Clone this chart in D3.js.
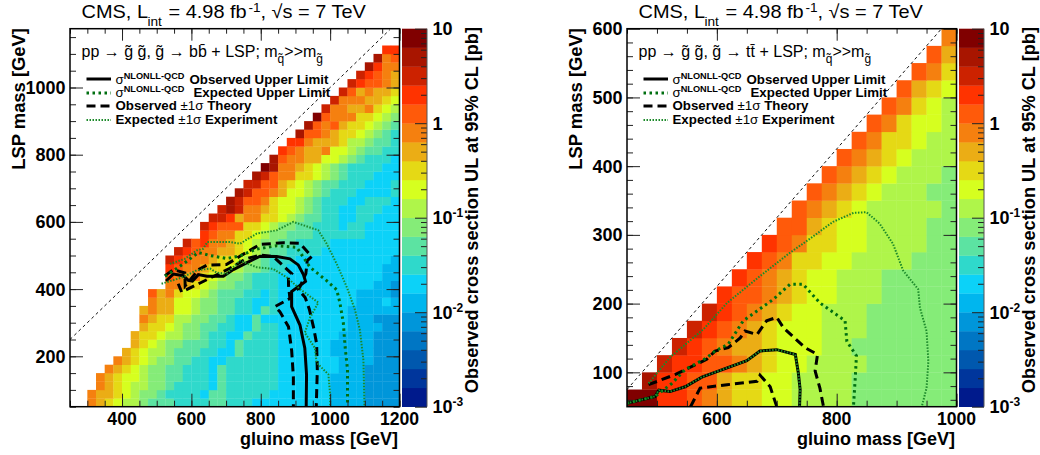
<!DOCTYPE html>
<html>
<head>
<meta charset="utf-8">
<script src="https://cdn.jsdelivr.net/npm/d3@7"></script>
<style>
  html, body { margin: 0; background: #fff; }
  text { font-family: "Liberation Sans", Arial, sans-serif; fill: #000; }
</style>
</head>
<body>
<div id="chart"></div>
<script>
// palette bins, lowest first: 20 equal bins from 10^-3 to 10 pb
const paletteColors = ['#001a8c','#00369c','#0058ae','#0076c4','#0096da','#00b6ee','#0cd2f8','#2fd9cb','#5ce3a2','#85ec78',
  '#aff54a','#d6ff1f','#e5d915','#ebad15','#f5800f','#ff5a0a','#ff3300','#cc2200','#a81500','#800000'];

const colorTicks = [10, 1, 0.1, 0.01, 0.001];

// bb + LSP: first gluino mass of every LSP row, then the palette bin of each cell in the row
const bbLspMass = d3.range(50, 1125, 25);
const bbFirstGluino = [300,300,325,325,350,375,400,425,425,450,450,450,475,475,525,525,525,525,550,575,625,625,650,675,700,725,750,775,800,825,850,875,900,925,950,975,1000,1025,1050,1075,1100,1125,1150,1175];
const bbBins = [
  [15,14,13,12,11,11,10,9,9,9,8,8,8,8,9,9,8,8,8,7,7,7,7,7,7,7,7,7,6,6,6,6,5,5,5,5],
  [15,14,14,13,12,11,10,10,9,8,8,8,8,7,9,9,8,8,8,8,8,7,7,7,7,7,7,7,6,6,6,6,5,5,5,5],
  [15,14,13,12,11,11,10,10,9,8,8,8,8,7,9,8,8,8,8,8,8,7,7,7,7,7,7,6,6,6,6,5,5,5,5],
  [15,14,13,12,12,11,10,10,9,9,8,8,8,7,9,8,8,8,8,8,8,7,7,7,7,7,7,6,6,6,6,5,5,5,5],
  [15,14,13,12,11,10,10,9,9,8,8,8,7,9,8,8,8,8,8,8,7,7,7,7,7,7,7,6,6,6,5,5,5,5],
  [15,14,13,12,11,10,10,9,9,8,8,7,7,8,8,8,8,8,8,7,7,7,7,7,7,7,6,6,6,6,5,5,5],
  [14,13,12,11,11,10,9,9,9,8,8,7,7,9,8,8,8,8,7,7,7,7,7,7,6,6,6,6,6,5,5,5],
  [14,13,12,11,10,10,9,9,9,8,8,7,9,8,8,8,8,7,7,7,7,7,7,6,6,6,6,6,5,5,5],
  [14,13,13,12,11,11,10,10,9,8,8,7,7,9,8,8,8,7,7,7,7,7,7,7,6,6,6,6,5,5,5],
  [14,13,13,12,11,10,10,9,9,8,8,7,7,9,8,8,7,7,7,7,7,7,7,7,6,6,6,6,5,5],
  [15,14,13,13,11,11,10,10,9,9,8,7,7,9,7,7,7,7,7,7,7,7,7,7,6,6,6,5,5,5],
  [14,15,14,14,12,12,11,10,10,9,9,8,8,7,9,8,7,7,7,7,7,7,7,7,6,6,6,6,6,6],
  [15,14,14,12,12,11,10,10,9,9,8,8,7,7,8,7,7,7,7,7,7,7,7,7,6,6,6,7,6],
  [16,14,15,13,12,12,11,10,9,9,9,8,8,7,8,7,7,7,7,7,7,7,7,7,6,6,6,6,5],
  [15,15,14,13,12,11,10,10,9,9,8,8,8,7,7,7,7,7,7,7,7,7,7,7,6,6,5],
  [16,15,14,15,13,12,11,10,10,9,8,8,8,7,7,7,7,7,7,7,7,7,7,7,7,6,6],
  [17,16,15,15,14,13,13,12,11,10,10,9,8,8,7,7,7,7,7,7,7,7,7,7,7,6,6],
  [18,17,16,15,15,14,13,13,12,11,10,9,8,8,8,7,7,7,7,7,7,7,7,7,7,7,6],
  [18,17,16,15,15,14,14,13,12,11,10,9,9,8,8,8,8,7,7,7,7,7,7,7,7,7],
  [18,16,17,15,15,14,13,12,11,10,10,9,9,8,8,8,8,7,7,7,7,7,7,7,7],
  [17,16,15,15,13,13,12,11,10,10,9,9,9,8,8,8,8,8,8,7,7,7,7],
  [18,17,16,16,16,13,13,12,11,10,10,9,9,8,8,8,7,8,8,7,7,7,7],
  [18,18,17,14,15,15,13,13,12,11,10,9,9,8,8,7,7,8,8,7,7,7],
  [18,19,18,15,15,14,13,12,12,11,10,9,8,8,7,7,8,8,8,7,7],
  [19,18,16,16,15,13,12,12,11,10,9,8,8,8,7,7,8,8,8,7],
  [19,18,16,16,15,14,12,12,11,10,9,8,8,8,7,7,7,7,8],
  [18,18,16,16,14,13,12,11,10,9,9,8,8,8,7,7,7,8],
  [19,18,16,15,15,13,13,12,11,10,9,8,8,8,7,7,7],
  [20,19,15,15,14,13,12,11,10,9,8,8,8,8,7,7],
  [19,16,15,15,14,14,12,12,11,10,9,8,8,8,7],
  [17,16,15,14,14,15,12,12,11,10,9,9,8,8],
  [17,17,15,14,14,14,13,11,11,10,9,9,8],
  [19,16,16,15,14,13,13,12,11,10,9,8],
  [19,16,15,16,14,13,13,12,11,10,9],
  [20,16,15,15,15,13,13,12,11,10],
  [18,15,15,14,14,15,13,12,11],
  [18,15,15,15,14,14,13,12],
  [18,16,14,15,14,14,13],
  [18,17,16,16,15,14],
  [18,17,16,15,14],
  [19,17,15,15],
  [19,15,16],
  [17,17],
  [19]
];

// bb + LSP limit curves as [gluino, LSP] in GeV
const bbObserved = [[527,424],[548,445],[577,440],[591,426],[603,424],[620,443],[645,438],[692,438],[721,458],[759,478],[798,498],[846,497],[884,490],[908,472],[923,443],[929,423],[889,393],[889,348],[913,293],[927,224],[932,145],[931,50]];
const bbTheoryUp = [[524,440],[548,458],[581,448],[582,410],[605,438],[620,458],[644,471],[701,473],[740,498],[798,533],[865,538],[913,536],[947,497],[934,485],[930,446],[909,398],[928,375],[940,340],[952,287],[961,238],[963,159],[960,50]];
const bbTheoryDown = [[562,416],[572,391],[711,462],[759,491],[798,501],[836,497],[889,446],[880,437],[880,412],[884,372],[841,348],[855,333],[880,288],[889,218],[894,139],[894,50]];
const bbExpected = [[524,438],[577,475],[620,509],[654,500],[702,491],[740,499],[788,519],[846,529],[904,524],[942,465],[990,425],[1019,398],[1028,360],[1038,300],[1043,230],[1050,161],[1050,50]];
const bbExpectedUp = [[538,475],[581,490],[615,515],[634,520],[646,540],[711,540],[740,535],[788,565],[846,575],[894,600],[923,590],[966,575],[990,535],[1019,475],[1048,406],[1072,337],[1086,277],[1096,188],[1099,50]];
const bbExpectedDown = [[514,416],[577,436],[615,456],[654,461],[673,449],[702,446],[740,485],[788,465],[836,460],[875,435],[913,400],[966,360],[942,315],[927,270],[956,225],[961,181],[995,146],[1000,86],[1000,50]];

// tt + LSP: same layout, one cell further along per row
const ttLspMass = d3.range(50, 600, 25);
const ttFirstGluino = d3.range(450, 1000, 25);
const ttBins = [
  [20,20,17,17,16,15,14,13,13,12,12,11,11,11,11,10,10,10,10,10,10,10],
  [19,17,17,16,16,14,13,13,12,12,11,11,11,11,10,10,10,10,10,10,10],
  [18,17,17,16,16,15,14,13,12,12,11,11,11,11,10,10,10,10,10,10],
  [18,17,16,15,14,14,13,12,12,12,11,11,10,10,10,10,10,10,10],
  [18,17,16,15,14,13,12,12,12,11,11,11,10,10,10,10,10,10],
  [18,17,16,15,14,13,12,12,11,11,11,10,10,10,10,10,10],
  [17,16,16,15,14,13,12,12,11,11,11,10,10,10,10,10],
  [17,16,15,14,13,12,12,11,11,11,10,10,10,10,10],
  [17,16,15,13,13,12,12,11,11,11,11,10,10,10],
  [17,16,15,13,13,12,12,11,11,11,11,10,10],
  [16,16,14,13,12,12,11,11,11,11,10,10],
  [16,15,14,13,12,11,11,11,11,11,10],
  [16,15,14,13,12,11,11,11,10,10],
  [16,15,14,13,12,11,11,11,10],
  [16,15,14,13,12,11,11,11],
  [16,15,13,13,12,11,11],
  [16,15,13,12,12,11],
  [16,15,13,12,11],
  [16,14,13,12],
  [16,15,13],
  [16,14],
  [15]
];

// tt + LSP limit curves as [gluino, LSP] in GeV
const ttObserved = [[450,55],[497,65],[503,74],[522,72],[547,79],[575,93],[600,101],[650,117],[672,131],[700,133],[731,126],[736,99],[739,75],[738,50]];
const ttTheoryUp = [[486,82],[531,97],[583,119],[597,131],[619,136],[639,150],[647,160],[667,155],[683,175],[700,180],[711,165],[747,136],[768,126],[764,102],[772,77],[778,50]];
const ttTheoryDown = [[556,50],[572,77],[617,82],[667,87],[672,96],[689,79],[700,50]];
const ttExpected = [[450,55],[497,65],[525,84],[547,104],[583,121],[597,131],[619,141],[644,175],[694,206],[722,228],[744,228],[772,201],[814,175],[817,145],[833,124],[831,92],[828,50]];
const ttExpectedUp = [[486,84],[522,122],[578,163],[617,201],[672,240],[722,274],[753,293],[794,319],[828,332],[850,333],[872,316],[894,287],[911,248],[936,221],[939,194],[950,160],[953,116],[950,77],[942,50]];
const ttExpectedDown = [[450,55],[497,65],[503,74],[522,72],[547,79],[575,93],[600,101],[650,117],[672,131],[700,133],[731,126],[736,99],[739,75],[738,50]];

const svg = d3.select('#chart').append('svg')
    .attr('width', 1040).attr('height', 455).style('display', 'block');

// bin number -> log10 of the cross section at the middle of the bin
const binToLog = b => -3 + (b - 0.5) * 0.2;
const color = d3.scaleQuantize().domain([-3, 1]).range(paletteColors);

const thinGreen = { stroke: '#1c8a2a', width: 2, dash: '1.5 1.5' };
const thickGreen = { stroke: '#006f10', width: 3, dash: '2.5 3.5' };
const blackDash = { stroke: '#000', width: 3, dash: '9 5' };
const blackSolid = { stroke: '#000', width: 3, dash: null };

// parts: text pieces, "at" pins a piece at a given offset from x
function rich(g, x, y, size, parts, attrs, sx) {
    const stretch = sx || 1;
    const t = g.append('text').attr('transform', `translate(${x},${y}) scale(${stretch},1)`).attr('font-size', size);
    Object.entries(attrs || {}).forEach(([k, v]) => t.attr(k, v));
    parts.forEach(p => {
        t.append('tspan')
            .attr('x', p.at !== undefined ? p.at / stretch : null)
            .attr('dy', p.dy || null)
            .attr('font-size', p.size || null)
            .attr('font-weight', p.weight || null)
            .text(p.text);
    });
    return t;
}

function ticks(g, axisFn, scale, values, size, translate) {
    g.append('g').attr('transform', translate)
        .call(axisFn(scale).tickValues(values).tickSize(size).tickFormat(''))
        .call(s => s.select('.domain').remove())
        .call(s => s.selectAll('line').attr('stroke', '#222'));
}

function drawPanel(cfg) {
    const g = svg.append('g');
    const L = cfg.left, R = cfg.right, T = 28.7, B = 406.7;
    const x = d3.scaleLinear().domain(cfg.xDomain).range([L, R]);
    const y = d3.scaleLinear().domain(cfg.yDomain).range([B, T]);

    // cells
    cfg.bins.forEach((row, r) => {
        row.forEach((b, i) => {
            const gl = cfg.firstGluino[r] + i * 25;
            g.append('rect')
                .attr('x', x(gl)).attr('y', y(cfg.lsp[r] + 25))
                .attr('width', x(gl + 25) - x(gl) + 0.3)
                .attr('height', y(cfg.lsp[r]) - y(cfg.lsp[r] + 25) + 0.3)
                .attr('fill', color(binToLog(b)));
        });
    });

    // kinematic limit
    const line = d3.line().x(d => x(d[0])).y(d => y(d[1]));
    const clip = 'clip-' + cfg.id;
    g.append('clipPath').attr('id', clip).append('rect')
        .attr('x', L).attr('y', T).attr('width', R - L).attr('height', B - T);
    g.append('path').attr('d', line(cfg.diagonal))
        .attr('fill', 'none').attr('stroke', '#111').attr('stroke-width', 1).attr('stroke-dasharray', '3 3');

    const curves = g.append('g').attr('clip-path', `url(#${clip})`).attr('fill', 'none');
    const addCurve = (data, st) => curves.append('path').attr('d', line(data))
        .attr('stroke', st.stroke).attr('stroke-width', st.width).attr('stroke-dasharray', st.dash);
    addCurve(cfg.theoryUp, blackDash);
    addCurve(cfg.theoryDown, blackDash);
    addCurve(cfg.observed, blackSolid);
    addCurve(cfg.expected, thickGreen);
    addCurve(cfg.expectedUp, thinGreen);
    addCurve(cfg.expectedDown, thinGreen);

    // ticks all round, pointing inwards
    ticks(g, d3.axisBottom, x, cfg.xMinor, -6, `translate(0,${B})`);
    ticks(g, d3.axisBottom, x, cfg.xMajor, -13, `translate(0,${B})`);
    ticks(g, d3.axisTop, x, cfg.xMinor, -5, `translate(0,${T})`);
    ticks(g, d3.axisTop, x, cfg.xMajor, -12, `translate(0,${T})`);
    ticks(g, d3.axisLeft, y, cfg.yMinor, -6, `translate(${L},0)`);
    ticks(g, d3.axisLeft, y, cfg.yMajor, -13, `translate(${L},0)`);
    ticks(g, d3.axisRight, y, cfg.yMinor, -6, `translate(${R},0)`);
    ticks(g, d3.axisRight, y, cfg.yMajor, -13, `translate(${R},0)`);

    g.append('rect').attr('x', L).attr('y', T).attr('width', R - L).attr('height', B - T)
        .attr('fill', 'none').attr('stroke', '#000').attr('stroke-width', 1.5);

    // tick labels
    cfg.xMajor.forEach(v => {
        g.append('text').attr('x', x(v)).attr('y', 425).attr('text-anchor', 'middle')
            .attr('font-size', 17.6).attr('font-weight', 'bold').text(v);
    });
    cfg.yMajor.forEach(v => {
        g.append('text').attr('x', L - 4.5).attr('y', y(v) + 6.5).attr('text-anchor', 'end')
            .attr('font-size', 18).attr('font-weight', 'bold').text(v);
    });

    g.append('text').attr('x', R - 1.5).attr('y', 445).attr('text-anchor', 'end')
        .attr('font-size', 18).attr('font-weight', 'bold').text('gluino mass [GeV]');
    g.append('text').attr('transform', `translate(${L - 45},28) rotate(-90)`).attr('text-anchor', 'end')
        .attr('font-size', 18.4).attr('font-weight', 'bold').text('LSP mass [GeV]');

    // palette
    const PL = R + 2.5, PR = PL + 25;
    const py = d3.scaleLog().domain([1e-3, 10]).range([B, T]);
    paletteColors.forEach((c, i) => {
        const hi = Math.pow(10, -3 + (i + 1) * 0.2), lo = Math.pow(10, -3 + i * 0.2);
        g.append('rect').attr('x', PL).attr('y', py(hi)).attr('width', PR - PL)
            .attr('height', py(lo) - py(hi) + 0.3).attr('fill', c);
    });
    const decades = [0.01, 0.1, 1, 10];
    const minors = decades.flatMap(d => d3.range(2, 10).map(k => d * k / 10));
    ticks(g, d3.axisLeft, py, minors, 6, `translate(${PR},0)`);
    ticks(g, d3.axisLeft, py, colorTicks, 12, `translate(${PR},0)`);
    g.append('line').attr('x1', PR).attr('x2', PR).attr('y1', T).attr('y2', B).attr('stroke', '#555').attr('stroke-width', 1);

    colorTicks.forEach(v => {
        const parts = v >= 1 ? [{ text: String(v) }]
            : [{ text: '10' }, { text: String(Math.round(Math.log10(v))), dy: -7, size: 12 }];
        rich(g, PR + 5.5, py(v) + 6.5, 18, parts, { 'font-weight': 'bold' });
    });

    g.append('text').attr('transform', `translate(${PR + 51},27) rotate(-90)`).attr('text-anchor', 'end')
        .attr('font-size', 18.2).attr('font-weight', 'bold').text('Observed cross section UL at 95% CL [pb]');

    // title, pieces pinned where they sit in the original
    rich(g, L + 11.5, 18.3, 19, [
        { text: 'CMS, L', at: 0 }, { text: 'int', at: 66, dy: 8, size: 13 }, { text: '= 4.98 fb', at: 87, dy: -8 },
        { text: '-1', at: 167, dy: -6, size: 13 }, { text: ', \u221As = 7 TeV', at: 179, dy: 6 }
    ], null, 1.05);

    // process line
    rich(g, L + 11.5, 57, 16, [
        { text: 'pp \u2192 g\u0303 g\u0303, g\u0303 \u2192 ' + cfg.decay + ' + LSP; m' },
        { text: 'q\u0303', dy: 6, size: 12 }, { text: '>>m', dy: -6 }, { text: 'g\u0303', dy: 6, size: 12 }
    ]);

    // legend
    const lx0 = L + 16.5, lx1 = L + 41;
    const key = (yy, st) => g.append('line').attr('x1', lx0).attr('x2', lx1).attr('y1', yy).attr('y2', yy)
        .attr('stroke', st.stroke).attr('stroke-width', st.width).attr('stroke-dasharray', st.dash);
    key(79, blackSolid);
    key(93, thickGreen);
    key(106, blackDash);
    key(120, thinGreen);
    const tx = L + 45.5;
    const boldPart = (text, extra) => Object.assign({ text, weight: 'bold' }, extra);
    rich(g, tx, 83.5, 13.3, [{ text: '\u03C3' }, boldPart('NLONLL-QCD', { dy: -5, size: 9.2 }), boldPart('Observed Upper Limit', { at: 74, dy: 5 })]);
    rich(g, tx, 96.8, 13.3, [{ text: '\u03C3' }, boldPart('NLONLL-QCD', { dy: -5, size: 9.2 }), boldPart('Expected Upper Limit', { at: 78, dy: 5 })]);
    rich(g, tx, 110.2, 13.3, [boldPart('Observed '), { text: '\u00B11\u03C3' }, boldPart(' Theory')]);
    rich(g, tx, 124, 13.3, [boldPart('Expected '), { text: '\u00B11\u03C3' }, boldPart(' Experiment')]);
}

drawPanel({
    id: 'bb', left: 70, right: 399.5,
    xDomain: [250, 1200], yDomain: [50, 1175],
    xMajor: [400, 600, 800, 1000, 1200],
    xMinor: d3.range(250, 1201, 50),
    yMajor: [200, 400, 600, 800, 1000],
    yMinor: d3.range(50, 1151, 50),
    bins: bbBins, firstGluino: bbFirstGluino, lsp: bbLspMass,
    diagonal: [[250, 250], [1172, 1172]],
    observed: bbObserved, theoryUp: bbTheoryUp, theoryDown: bbTheoryDown,
    expected: bbExpected, expectedUp: bbExpectedUp, expectedDown: bbExpectedDown,
    decay: 'bb\u0304'
});

drawPanel({
    id: 'tt', left: 627, right: 956.5,
    xDomain: [450, 1000], yDomain: [50, 600],
    xMajor: [600, 800, 1000],
    xMinor: d3.range(450, 1001, 50),
    yMajor: [100, 200, 300, 400, 500, 600],
    yMinor: d3.range(60, 600, 20),
    bins: ttBins, firstGluino: ttFirstGluino, lsp: ttLspMass,
    diagonal: [[450, 75], [975, 600]],
    observed: ttObserved, theoryUp: ttTheoryUp, theoryDown: ttTheoryDown,
    expected: ttExpected, expectedUp: ttExpectedUp, expectedDown: ttExpectedDown,
    decay: 'tt\u0304'
});
</script>
</body>
</html>
